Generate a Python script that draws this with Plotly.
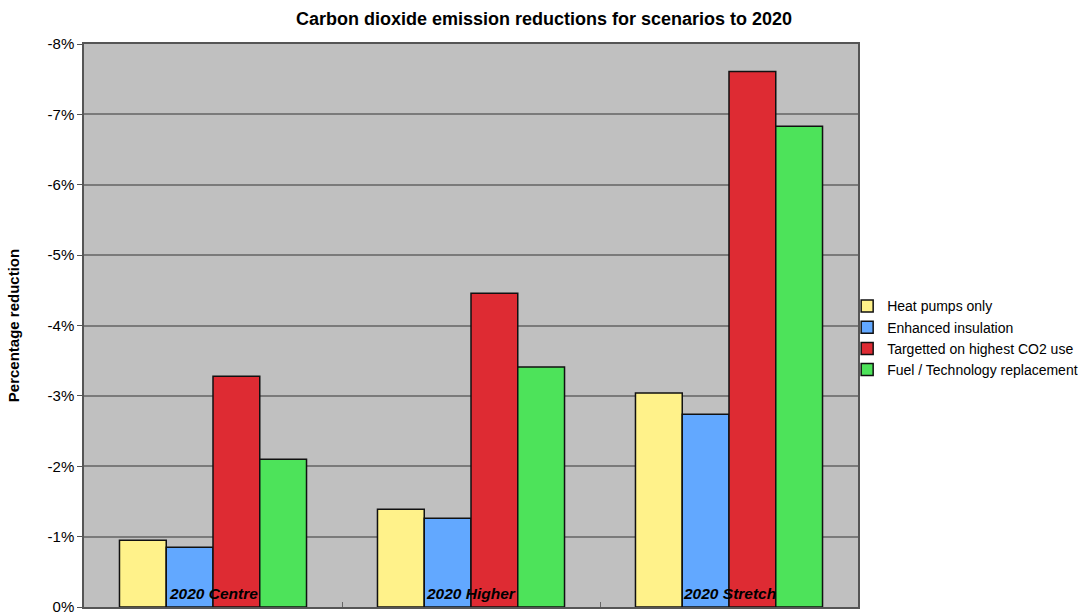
import plotly.graph_objects as go

scenarios = ["2020 Centre", "2020 Higher", "2020 Stretch"]
series_names = ["Heat pumps only", "Enhanced insulation",
                "Targetted on highest CO2 use", "Fuel / Technology replacement"]
heat_pumps = [-0.95, -1.39, -3.04]
insulation = [-0.85, -1.26, -2.74]
targetted = [-3.28, -4.46, -7.61]
fuel_tech = [-2.10, -3.41, -6.83]
tick_values = [0, -1, -2, -3, -4, -5, -6, -7, -8]
tick_labels = ["0%", "-1%", "-2%", "-3%", "-4%", "-5%", "-6%", "-7%", "-8%"]

colors = ["#FFF28A", "#62A8FF", "#DE2B33", "#4DE35A"]
series = [heat_pumps, insulation, targetted, fuel_tech]

x_pos = list(range(len(scenarios)))

fig = go.Figure()
for name, vals, col in zip(series_names, series, colors):
    fig.add_trace(go.Bar(
        x=x_pos, y=vals, name=name,
        marker=dict(color=col, line=dict(color="#111111", width=1.5)),
    ))

for i, label in enumerate(scenarios):
    fig.add_annotation(
        x=i, y=0, xref="x", yref="y", yanchor="bottom", yshift=3,
        text="<b><i>" + label + "</i></b>", showarrow=False,
        font=dict(family="Liberation Sans, Arial", size=15.5, color="#000000"),
    )

fig.update_layout(
    width=1088, height=615,
    margin=dict(l=84, r=230, t=44, b=8, autoexpand=False),
    paper_bgcolor="#FFFFFF",
    plot_bgcolor="#C0C0C0",
    barmode="group",
    bargap=0.275,
    bargroupgap=0,
    font=dict(family="Liberation Sans, Arial", size=13, color="#000000"),
    title=dict(
        text="<b>Carbon dioxide emission reductions for scenarios to 2020</b>",
        x=0.5, xref="container", xanchor="center",
        y=0.97, yref="container", yanchor="middle",
        font=dict(size=18),
    ),
    legend=dict(
        x=0.986, xanchor="left", y=0.478, yanchor="middle",
        font=dict(size=14), bgcolor="rgba(0,0,0,0)",
        itemwidth=30, tracegroupgap=0,
    ),
    xaxis=dict(
        range=[-0.5, 2.5], automargin=False,
        tickvals=[0.5, 1.5], ticktext=["", ""],
        ticks="inside", ticklen=5, tickcolor="#666666",
        showgrid=False, zeroline=False,
        showline=True, linecolor="#555555", linewidth=1.5, mirror=True,
    ),
    yaxis=dict(
        range=[0, -8], automargin=False,
        tickvals=tick_values, ticktext=tick_labels,
        ticklabeloverflow="allow",
        ticks="outside", ticklen=5, tickcolor="#555555",
        tickfont=dict(size=15),
        showgrid=True, gridcolor="#7A7A7A", gridwidth=1.5,
        zeroline=False,
        showline=True, linecolor="#555555", linewidth=1.5, mirror=True,
        title=dict(text="<b>Percentage reduction</b>", font=dict(size=15), standoff=24),
    ),
)

fig.write_html("out.html")
